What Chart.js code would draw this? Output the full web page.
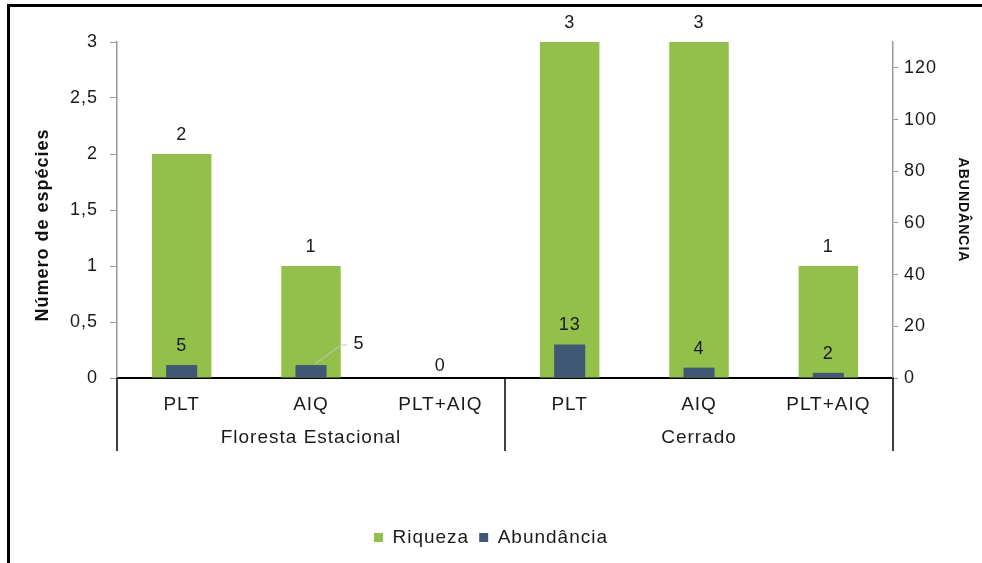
<!DOCTYPE html>
<html>
<head>
<meta charset="utf-8">
<script src="https://cdn.jsdelivr.net/npm/chart.js@4"></script>
<style>
  html, body { margin: 0; padding: 0; background: #fff; }
  #wrap { position: relative; width: 982px; height: 563px; overflow: hidden; }
  #frame { position: absolute; left: 7px; top: 4px; width: 1000px; height: 600px;
           border-left: 3px solid #000; border-top: 3px solid #000; }
  canvas { position: absolute; left: 0; top: 0; }
</style>
</head>
<body>
<div id="wrap">
  <div id="frame"></div>
  <canvas id="grafico" width="982" height="563"></canvas>
</div>
<script>
const categorias = ["PLT", "AIQ", "PLT+AIQ", "PLT", "AIQ", "PLT+AIQ"]
const grupos = ["Floresta Estacional", "Cerrado"]
const tamanhoGrupo = 3
const riqueza = [2, 1, 0, 3, 3, 1]
const abundancia = [5, 5, 0, 13, 4, 2]

const VERDE = "#92c04a"
const AZUL = "#3f5873"
const FONTE = "'Liberation Sans', Arial, sans-serif"

const canvas = document.getElementById("grafico")

// texto do original é um pouco mais espaçado
const espacamento = {
  id: "espacamento",
  beforeUpdate(chart) { chart.ctx.letterSpacing = "1px" },
  beforeDraw(chart) { chart.ctx.letterSpacing = "1px" }
}

// rótulos de valor acima das barras
const rotulos = {
  id: "rotulos",
  afterDatasetsDraw(chart) {
    const ctx = chart.ctx
    ctx.save()
    ctx.font = "18px " + FONTE
    ctx.fillStyle = "#1a1a1a"
    ctx.textAlign = "center"
    ctx.textBaseline = "middle"
    chart.data.datasets.forEach((ds, di) => {
      const meta = chart.getDatasetMeta(di)
      meta.data.forEach((bar, i) => {
        const v = ds.data[i]
        if (di === 1 && v === 0) return
        if (di === 1 && i === 1) {
          // rótulo deslocado com linha de chamada
          ctx.strokeStyle = "#c8c8c8"
          ctx.lineWidth = 1
          ctx.beginPath()
          ctx.moveTo(bar.x + 4, bar.y - 1)
          ctx.lineTo(bar.x + 30, bar.y - 20)
          ctx.lineTo(bar.x + 36, bar.y - 20)
          ctx.stroke()
          ctx.fillText(String(v), bar.x + 48, bar.y - 21)
          return
        }
        const dy = (di === 0 && v === 0) ? 12 : 19
        ctx.fillText(String(v), bar.x, bar.y - dy)
      })
    })
    ctx.restore()
  }
}

// rótulos de grupo e divisórias do eixo x
const eixoGrupos = {
  id: "eixoGrupos",
  afterDraw(chart) {
    const ctx = chart.ctx
    const x = chart.scales.x
    const area = chart.chartArea
    const meio = (i) => (x.getPixelForValue(i) + x.getPixelForValue(i - 1)) / 2
    ctx.save()
    ctx.strokeStyle = "#000"
    ctx.lineWidth = 1.5
    const limites = [area.left]
    for (let g = 1; g < grupos.length; g++) limites.push(meio(g * tamanhoGrupo))
    limites.push(area.right)
    limites.forEach(px => {
      ctx.beginPath()
      ctx.moveTo(px, area.bottom)
      ctx.lineTo(px, area.bottom + 73)
      ctx.stroke()
    })
    ctx.font = "19px " + FONTE
    ctx.fillStyle = "#1a1a1a"
    ctx.textAlign = "center"
    ctx.textBaseline = "middle"
    grupos.forEach((g, gi) => {
      const cx = (limites[gi] + limites[gi + 1]) / 2
      ctx.fillText(g, cx, area.bottom + 60)
    })
    ctx.restore()
  }
}

new Chart(canvas, {
  type: "bar",
  data: {
    labels: categorias,
    datasets: [
      {
        label: "Riqueza",
        data: riqueza,
        yAxisID: "y",
        backgroundColor: VERDE,
        grouped: false,
        order: 1,
        categoryPercentage: 1,
        barPercentage: 0.46
      },
      {
        label: "Abundância",
        data: abundancia,
        yAxisID: "y2",
        backgroundColor: AZUL,
        grouped: false,
        order: 0,
        categoryPercentage: 1,
        barPercentage: 0.24
      }
    ]
  },
  options: {
    responsive: false,
    animation: false,
    layout: { padding: { top: 42, bottom: 6, left: 0, right: 0 } },
    plugins: {
      legend: {
        position: "bottom",
        labels: {
          font: { family: FONTE, size: 19 },
          color: "#1a1a1a",
          boxWidth: 9,
          boxHeight: 9,
          padding: 10,
          sort: (a, b) => a.datasetIndex - b.datasetIndex
        }
      },
      tooltip: { enabled: false }
    },
    scales: {
      x: {
        grid: { display: false },
        border: { display: true, color: "#000", width: 2 },
        ticks: {
          font: { family: FONTE, size: 19 },
          color: "#1a1a1a",
          padding: 7,
          maxRotation: 0,
          autoSkip: false
        },
        afterFit(s) { s.height = 140 }
      },
      y: {
        position: "left",
        min: 0,
        max: 3,
        ticks: {
          stepSize: 0.5,
          font: { family: FONTE, size: 18 },
          color: "#1a1a1a",
          padding: 12,
          callback: v => String(v).replace(".", ",")
        },
        grid: { drawOnChartArea: false, tickLength: 7, color: "#999" },
        border: { color: "#999", width: 1.5 },
        title: {
          display: true,
          // espaços finais deslocam o título um pouco para baixo, como no original
          text: "Número de espécies     ",
          font: { family: FONTE, size: 18, weight: "bold" },
          color: "#111",
          padding: { top: 32, bottom: 0 }
        },
        afterFit(s) { s.width = 117 }
      },
      y2: {
        position: "right",
        min: 0,
        max: 130,
        ticks: {
          stepSize: 20,
          font: { family: FONTE, size: 18 },
          color: "#1a1a1a",
          padding: 6
        },
        afterBuildTicks(s) { s.ticks = s.ticks.filter(t => t.value % 20 === 0) },
        grid: { drawOnChartArea: false, tickLength: 5, color: "#999" },
        border: { color: "#999", width: 1.5 },
        title: {
          display: true,
          text: "ABUNDÂNCIA",
          font: { family: FONTE, size: 14, weight: "bold" },
          color: "#111",
          padding: { top: 11, bottom: 0 }
        },
        afterFit(s) { s.width = 89 }
      }
    }
  },
  plugins: [espacamento, rotulos, eixoGrupos]
})
</script>
</body>
</html>
